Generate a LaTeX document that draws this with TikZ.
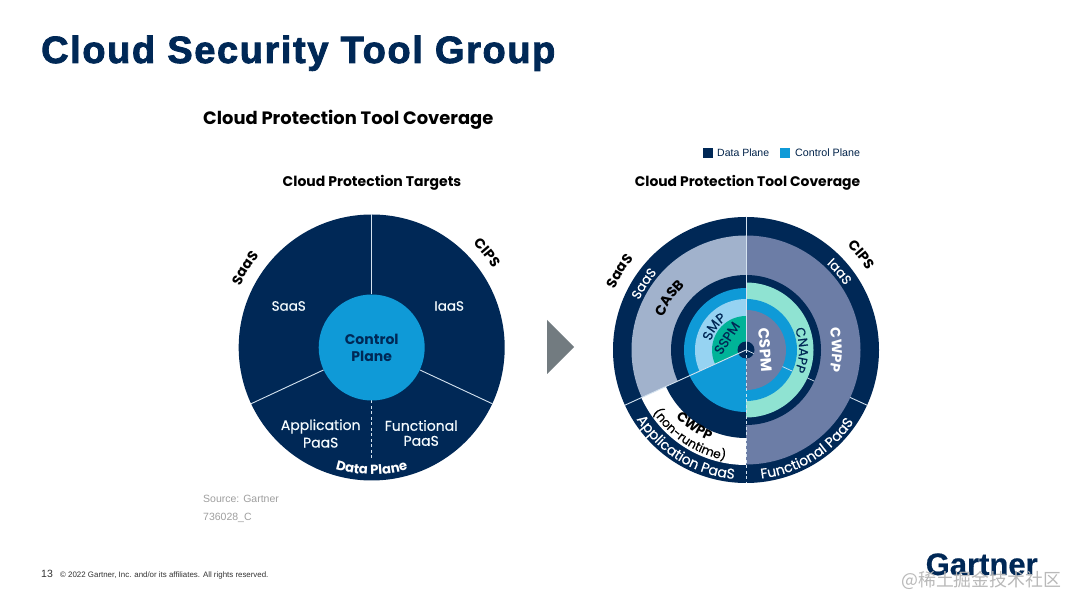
\documentclass[tikz,border=0pt]{standalone}
\usepackage{fontspec}
\setmainfont{Poppins}[FakeBold=0.35,BoldFeatures={FakeBold=0}]
\newfontfamily\arialf{Liberation Sans}
\newfontfamily\cjkf{Noto Sans CJK SC}
\usetikzlibrary{decorations.text}
\definecolor{navy}{HTML}{002856}
\definecolor{cblue}{HTML}{0F9AD7}
\definecolor{lblue}{HTML}{96D3F2}
\definecolor{cgreen}{HTML}{00B398}
\definecolor{aqua}{HTML}{8FE3D2}
\definecolor{lgrey}{HTML}{A1B2CC}
\definecolor{mgrey}{HTML}{6C7DA6}
\definecolor{divline}{HTML}{D5E3F0}
\definecolor{arrowgrey}{HTML}{727B80}
\newcommand{\fsz}[1]{\fontsize{#1}{#1}\selectfont}
% sector: r1 r2 a b colour
\newcommand{\sector}[5]{\fill[#5] (#3:#1) arc[start angle=#3,end angle=#4,radius=#1] -- (#4:#2) arc[start angle=#4,end angle=#3,radius=#2] -- cycle;}
% arc text: radius, from, to, format, text
\newcommand{\arctext}[5]{\path[decorate,decoration={text along path,text align=center,text={|#4|#5}}] (#2:#1) arc[start angle=#2,end angle=#3,radius=#1];}
\tikzset{
  lbl/.style={inner sep=0pt,align=center},
  divider/.style={divline,line width=0.9pt},
  dashdiv/.style={divline,line width=0.9pt,dash pattern=on 3pt off 2.5pt},
}
\begin{document}
\begin{tikzpicture}[x=1pt,y=1pt]
\useasboundingbox (0,0) rectangle (1080,608);
\fill[white] (0,0) rectangle (1080,608);
% title
\node[lbl,anchor=base west,text=navy] (title) at (41,545) {\arialf\addfontfeatures{LetterSpace=4.2,FakeBold=2.2}\bfseries\fsz{38}Cloud Security Tool Group};
\node[lbl,anchor=base west,text=black] (sub) at (203,483.5) {\bfseries\fsz{17.9}Cloud Protection Tool Coverage};
\node[lbl,text=black] (ttl) at (372,425.5) {\bfseries\fsz{14}Cloud Protection Targets};
\node[lbl,text=black] (ttr) at (747.5,425.5) {\bfseries\fsz{13.9}Cloud Protection Tool Coverage};
% legend
\fill[navy] (703,450) rectangle (713,460);
\node[lbl,anchor=west,text=navy!85!black] (lg1) at (717,455) {\arialf\fsz{10.5}Data Plane};
\fill[cblue] (780,450) rectangle (790,460);
\node[lbl,anchor=west,text=navy!85!black] (lg2) at (795,455) {\arialf\fsz{10.7}Control Plane};
% left wheel
\begin{scope}[shift={(371.7,260.5)}]
  \fill[navy] (0,0) circle[radius=133];
  \draw[divider] (90:53) -- (90:133);
  \draw[divider] (205:53) -- (205:133);
  \draw[divider] (-25:53) -- (-25:133);
  \draw[dashdiv] (-90:53) -- (-90:111);
  \fill[cblue] (0,0) circle[radius=53];
  \node[lbl,text=navy] (cp) at (0,-0.5) {\bfseries\fsz{14}Control\\[4.5pt]\bfseries\fsz{14}Plane};
  \node[lbl,text=white!90!lblue] (l1) at (-83,41.5) {\fsz{13.5}SaaS};
  \node[lbl,text=white!90!lblue] (l2) at (77.5,41.5) {\fsz{13.5}IaaS};
  \node[lbl,text=white!90!lblue] (l3) at (-51,-86) {\fsz{14}Application\\[3pt]\fsz{14}PaaS};
  \node[lbl,text=white!90!lblue] (l4) at (49.5,-85.5) {\fsz{14}Functional\\[3pt]\fsz{14}PaaS};
  \arctext{127}{-110}{-70}{\color{white}\bfseries\fsz{13.2}}{Data Plane}
  \arctext{145}{162}{134}{\color{black}\bfseries\fsz{14}}{SaaS}
  \arctext{145}{52}{27}{\color{black}\bfseries\fsz{14}}{CIPS}
\end{scope}
% arrow
\fill[arrowgrey] (547,288) -- (574,261) -- (547,234) -- cycle;
% right wheel
\begin{scope}[shift={(746,258)}]
  \fill[navy] (0,0) circle[radius=133];
  % upper-left sector
  \sector{0}{114.5}{90}{204.5}{lgrey}
  \sector{0}{75}{90}{204.5}{navy}
  \sector{0}{62}{90}{204.5}{cblue}
  \sector{0}{51}{90}{204.5}{lblue}
  \sector{0}{34}{90}{204.5}{cgreen}
  % lower-left sector
  \sector{0}{115}{204.5}{270}{white}
  \sector{0}{88}{204.5}{270}{navy}
  \sector{0}{62}{204.5}{270}{cblue}
  % right half
  \sector{0}{114.5}{-90}{90}{mgrey}
  \sector{0}{75}{-90}{90}{navy}
  \sector{0}{67.5}{-90}{90}{aqua}
  \sector{0}{51}{-90}{90}{cblue}
  \sector{0}{40}{-90}{90}{mgrey}
  \fill[navy] (0,0) circle[radius=8.5];
  % dividers
  \draw[divider] (0,0) -- (90:133);
  \draw[divider] (0,0) -- (204.5:133);
  \draw[dashdiv] (0,0) -- (-90:133);
  \draw[divider,line width=0.7pt] (0,0) -- (-24.5:8.5);
  \draw[divider,line width=0.7pt] (-24.5:40) -- (-24.5:51);
  \draw[divider,line width=0.7pt] (-24.5:67.5) -- (-24.5:75);
  \draw[divider] (-24.5:114.5) -- (-24.5:133);
  % outer labels
  \arctext{145}{162}{134}{\color{black}\bfseries\fsz{14}}{SaaS}
  \arctext{145}{52}{27}{\color{black}\bfseries\fsz{14}}{CIPS}
  \arctext{118}{162}{132}{\color{white}\fsz{13}}{SaaS}
  \arctext{118}{55}{25}{\color{white}\fsz{13}}{IaaS}
  \arctext{129.5}{205}{272}{\color{white}\fsz{14}}{Application PaaS}
  \arctext{129.5}{-92}{-25}{\color{white}\fsz{14}}{Functional PaaS}
  \arctext{112}{205}{268}{\color{black}\fsz{12.2}}{(non-runtime)}
  \arctext{97.5}{215}{257}{\color{black}\bfseries\fsz{13.5}}{CWPP}
  \arctext{89}{165}{127}{\color{black}\bfseries\fsz{14}}{CASB}
  \arctext{86}{20}{-20}{\color{white}\bfseries\fsz{14}}{CWPP}
  \arctext{53}{35}{-35}{\color{navy}\fsz{13}}{CNAPP}
  \arctext{36}{175}{113}{\color{navy}\fsz{13.5}}{SMP}
  \node[lbl,rotate=57,text=navy] (sspm) at (148:22.5) {\fsz{13.5}SSPM};
  \node[lbl,rotate=-86,text=white] (cspm) at (19,0) {\bfseries\fsz{15}CSPM};
\end{scope}
% footer
\node[lbl,anchor=base west,text=gray!75] (src) at (203,105) {\arialf\fsz{10.5}Source: Gartner};
\node[lbl,anchor=base west,text=gray!75] (num) at (203,87) {\arialf\fsz{10.5}736028\_C};
\node[lbl,anchor=base west,text=black!80] (pg) at (41,30) {\arialf\fsz{10.5}13};
\node[lbl,anchor=base west,text=black!80] (cr) at (60,30) {\arialf\fsz{7.9}© 2022 Gartner, Inc. and/or its affiliates. All rights reserved.};
\node[lbl,anchor=base west,text=navy] (logo) at (925.5,33) {\arialf\addfontfeatures{FakeBold=0.6}\bfseries\fsz{31}Gartner};
\node[lbl,anchor=base west,text=gray!55] (wm) at (901,21.5) {\cjkf\fsz{17.9}@稀土掘金技术社区};
\end{tikzpicture}
\end{document}
